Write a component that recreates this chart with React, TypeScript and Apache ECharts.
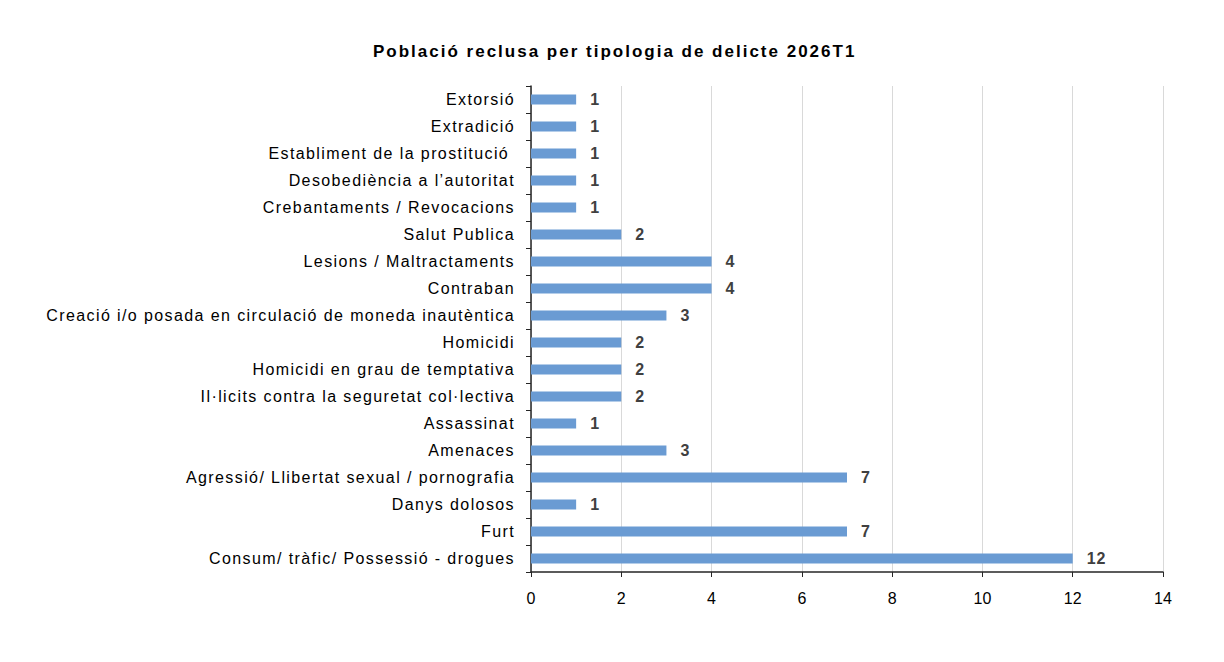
import React, { useEffect, useRef } from "react";
import * as echarts from "echarts";

// Categories listed bottom-to-top (ECharts category axis starts at the bottom)
const categories: string[] = [
  "Consum/ tràfic/ Possessió - drogues",
  "Furt",
  "Danys dolosos",
  "Agressió/ Llibertat sexual / pornografia",
  "Amenaces",
  "Assassinat",
  "Il·licits contra la seguretat col·lectiva",
  "Homicidi en grau de temptativa",
  "Homicidi",
  "Creació i/o posada en circulació de moneda inautèntica",
  "Contraban",
  "Lesions / Maltractaments",
  "Salut Publica",
  "Crebantaments / Revocacions",
  "Desobediència a l’autoritat",
  "Establiment de la prostitució ",
  "Extradició",
  "Extorsió",
];

const reclusos: number[] = [12, 7, 1, 7, 3, 1, 2, 2, 2, 3, 4, 4, 2, 1, 1, 1, 1, 1];

const xTicks: number[] = [0, 2, 4, 6, 8, 10, 12, 14];

// Same face for everything; the fallback names only tag texts that get extra tracking
const FONT = "'Liberation Sans', sans-serif";
const FONT_TRACKED = "'Liberation Sans', Arial, sans-serif";
const FONT_VALUE = "'Liberation Sans', Helvetica, sans-serif";

const trackingCss = `
#chart-reclusos svg text[style*="Arial"] { letter-spacing: 1.4px; }
#chart-reclusos svg text[style*="Arial"][style*="bold"] { letter-spacing: 2px; }
#chart-reclusos svg text[style*="Helvetica"] { letter-spacing: 1px; }
`;

export default function App() {
  const ref = useRef<HTMLDivElement>(null);

  useEffect(() => {
    if (!ref.current) return;
    const chart = echarts.init(ref.current, undefined, { renderer: "svg" });
    chart.setOption({
      animation: false,
      backgroundColor: "#ffffff",
      title: {
        text: "Població reclusa per tipologia de delicte 2026T1",
        left: 368,
        top: 38,
        textStyle: {
          fontFamily: FONT_TRACKED,
          fontSize: 17,
          fontWeight: "bold",
          color: "#000000",
        },
      },
      grid: {
        left: 531,
        right: 61,
        top: 86,
        bottom: 90,
        containLabel: false,
      },
      xAxis: {
        type: "value",
        min: xTicks[0],
        max: xTicks[xTicks.length - 1],
        interval: 2,
        axisLine: { show: true, lineStyle: { color: "#262626", width: 1.5 } },
        axisTick: { show: true, length: 5, lineStyle: { color: "#262626" } },
        axisLabel: {
          margin: 18,
          fontFamily: FONT,
          fontSize: 16,
          color: "#000000",
        },
        splitLine: { show: true, lineStyle: { color: "#d9d9d9", width: 1 } },
      },
      yAxis: {
        type: "category",
        data: categories,
        axisLine: { show: true, lineStyle: { color: "#262626", width: 1.5 } },
        axisTick: { show: true, length: 5, alignWithLabel: false, lineStyle: { color: "#262626" } },
        axisLabel: {
          margin: 16,
          fontFamily: FONT_TRACKED,
          fontSize: 16,
          color: "#000000",
        },
        splitLine: { show: false },
      },
      series: [
        {
          type: "bar",
          data: reclusos,
          barWidth: 10,
          itemStyle: { color: "#6a9bd3" },
          label: {
            show: true,
            position: "right",
            distance: 14,
            fontFamily: FONT_VALUE,
            fontSize: 16,
            fontWeight: "bold",
            color: "#404040",
          },
        },
      ],
    });
    return () => chart.dispose();
  }, []);

  return (
    <>
      <style>{trackingCss}</style>
      <div id="chart-reclusos" ref={ref} style={{ width: 1224, height: 662, margin: -8 }} />
    </>
  );
}
